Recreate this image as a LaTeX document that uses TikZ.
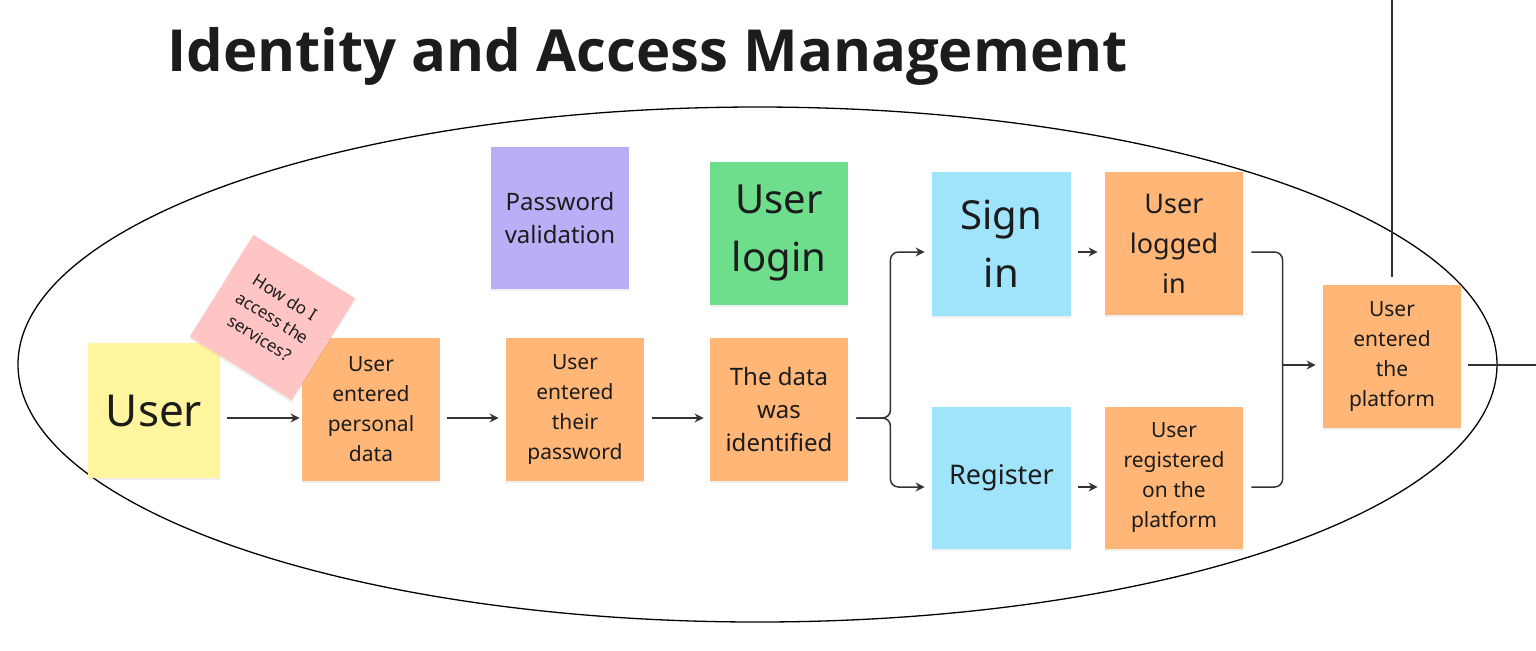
\documentclass[tikz,border=0pt]{standalone}
\usepackage{fontspec}
\setmainfont{Noto Sans}
\newfontfamily\titlefont{Open Sans}
\usetikzlibrary{calc,arrows.meta,shadows}
\definecolor{cyellow}{HTML}{FFF59E}
\definecolor{cpink}{HTML}{FFC4C4}
\definecolor{corange}{HTML}{FFB677}
\definecolor{cpurple}{HTML}{B9AFF6}
\definecolor{cgreen}{HTML}{6EDE8C}
\definecolor{cblue}{HTML}{A0E4FB}
\definecolor{ctext}{HTML}{1C1C1C}
\definecolor{cline}{HTML}{333333}
\begin{document}
\begin{tikzpicture}[x=0.5pt,y=-0.5pt,
  note/.style={inner sep=0pt, align=center, text=ctext,
    drop shadow={opacity=0.12, shadow xshift=0pt, shadow yshift=-1.2pt}},
  sq/.style={note, minimum width=69pt, minimum height=71.5pt},
  small/.style={font=\fontsize{10.5}{15}\selectfont},
  mid/.style={font=\fontsize{12}{16.5}\selectfont},
  big/.style={font=\fontsize{13.5}{20}\selectfont},
  huge/.style={font=\fontsize{20}{29}\selectfont},
  conn/.style={draw=cline, line width=0.75pt},
  arr/.style={conn, -{Stealth[length=4.5pt,width=4.5pt]}}
]
\useasboundingbox (0,0) rectangle (1536,650);
\fill[white] (0,0) rectangle (1536,650);

% title
\node[anchor=base west, inner sep=0pt, text=ctext, font=\titlefont\bfseries\fontsize{29}{36}\selectfont] (title) at (167,71) {Identity and Access Management};

% ellipse
\draw[line width=0.65pt, black] (757.5,364.5) ellipse [x radius=369.75pt, y radius=128.75pt];

% notes
\node[note, fill=cyellow, minimum width=66pt, minimum height=67.5pt, font=\fontsize{22}{28}\selectfont] (user) at (154,410.5) {User};
\node[sq, fill=corange, small] (personal) at (371,409.5) {User\\entered\\personal\\data};
\node[note, fill=cpink, minimum width=60pt, minimum height=60pt, rotate=-32, font=\fontsize{8.5}{12}\selectfont] (pink) at (272.5,317.5) {How do I\\access the\\services?};
\node[sq, fill=corange, small] (password) at (575,409.5) {User\\entered\\their\\password};
\node[note, fill=cpurple, minimum width=69pt, minimum height=71pt, mid] (pwval) at (560,218) {Password\\validation};
\node[sq, fill=cgreen, huge] (login) at (779,233.5) {User\\login};
\node[sq, fill=corange, mid] (data) at (779,409.5) {The data\\was\\identified};
\node[note, fill=cblue, minimum width=69.5pt, minimum height=72pt, huge] (signin) at (1001.5,244) {Sign\\in};
\node[note, fill=cblue, minimum width=69.5pt, minimum height=71pt, big] (register) at (1001.5,478) {Register};
\node[sq, fill=corange, big] (logged) at (1174,243.5) {User\\logged\\in};
\node[note, fill=corange, minimum width=69pt, minimum height=71pt, small] (registered) at (1174,478) {User\\registered\\on the\\platform};
\node[sq, fill=corange, small] (platform) at (1392,356.5) {User\\entered\\the\\platform};

% connectors
\draw[arr] ($(user.east)+(7,7.5)$) -- ($(personal.west)+(-2,8.5)$);
\draw[arr] ($(personal.east)+(7,8.5)$) -- ($(password.west)+(-7,8.5)$);
\draw[arr] ($(password.east)+(8,8.5)$) -- ($(data.west)+(-6,8.5)$);
\draw[arr, rounded corners=4pt] ($(data.east)+(8,8.5)$) -- ($(data.east)+(42,8.5)$) |- ($(signin.west)+(-7,8)$);
\draw[arr, rounded corners=4pt] ($(data.east)+(8,8.5)$) -- ($(data.east)+(42,8.5)$) |- ($(register.west)+(-7,9)$);
\draw[arr] ($(signin.east)+(7,8)$) -- ($(logged.west)+(-7,8.5)$);
\draw[arr] ($(register.east)+(7,9)$) -- ($(registered.west)+(-7,9)$);
\coordinate (merge) at ($(platform.west)+(-40,8.5)$);
\draw[conn, rounded corners=4pt] ($(logged.east)+(8,8.5)$) -| (merge);
\draw[conn, rounded corners=4pt] ($(registered.east)+(8,9)$) -| (merge);
\draw[arr] (merge) -- ($(platform.west)+(-7,8.5)$);
\coordinate (topend) at (platform.north |- 0,0);
\draw[conn] (topend) -- ($(platform.north)+(0,-8)$);
\coordinate (rightend) at (1536,365);
\draw[conn] ($(platform.east)+(7,8.5)$) -- (rightend);
\end{tikzpicture}
\end{document}
